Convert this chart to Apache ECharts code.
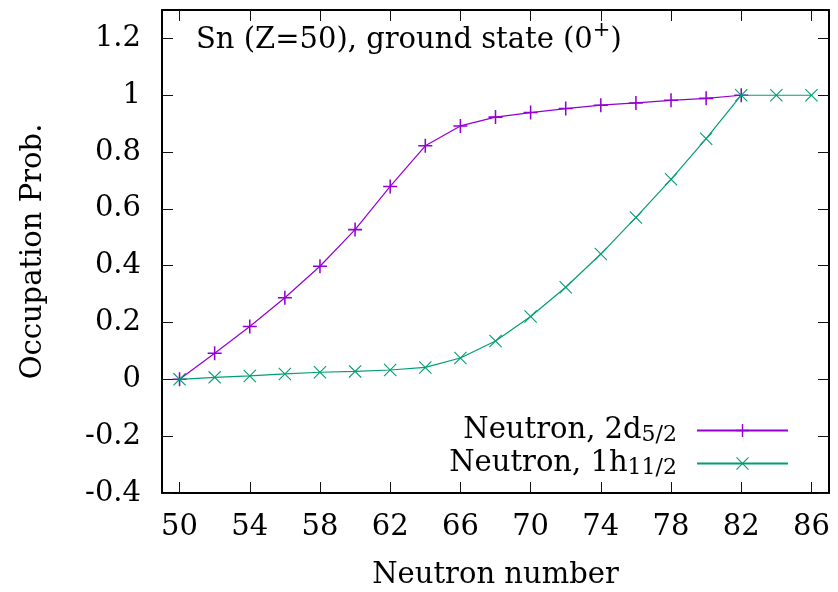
<!DOCTYPE html>
<html>
<head>
<meta charset="utf-8">
<script src="https://cdn.jsdelivr.net/npm/echarts@6/dist/echarts.min.js"></script>
<style>
  html, body { margin: 0; padding: 0; background: #fff; }
  #chart { width: 838px; height: 592px; }
</style>
</head>
<body>
<div id="chart"></div>
<script>
// Neutron numbers along the Sn isotope chain
const neutronN = [50, 52, 54, 56, 58, 60, 62, 64, 66, 68, 70, 72, 74, 76, 78, 80, 82, 84, 86];
// Occupation probability of the neutron 2d5/2 orbit (N = 50 ... 82)
const occ2d52 = [0.000, 0.092, 0.186, 0.287, 0.398, 0.527, 0.679, 0.822, 0.892, 0.923,
                 0.939, 0.953, 0.965, 0.973, 0.982, 0.989, 1.000];
// Occupation probability of the neutron 1h11/2 orbit (N = 50 ... 86)
const occ1h112 = [0.000, 0.007, 0.012, 0.019, 0.025, 0.028, 0.033, 0.042, 0.075, 0.135,
                  0.221, 0.324, 0.441, 0.570, 0.704, 0.847, 1.000, 1.000, 1.000];
// Tick positions
const xTicks = [50, 54, 58, 62, 66, 70, 74, 78, 82, 86];
const yTicks = [-0.4, -0.2, 0, 0.2, 0.4, 0.6, 0.8, 1, 1.2];

const FONT = 'DejaVu Serif';
const FS = 29;
const PURPLE = '#9400d3';
const GREEN = '#009e73';

// Filled '+' and 'x' glyphs used as point markers
const PLUS = 'path://M4.45,0 H5.55 V4.45 H10 V5.55 H5.55 V10 H4.45 V5.55 H0 V4.45 H4.45 Z';
const CROSS = 'path://M0,0.6 L0.6,0 L5,4.4 L9.4,0 L10,0.6 L5.6,5 L10,9.4 L9.4,10 L5,5.6 L0.6,10 L0,9.4 L4.4,5 Z';

const pairs = (xs, ys) => ys.map((y, i) => [xs[i], y]);

const chart = echarts.init(document.getElementById('chart'), null, { renderer: 'canvas' });

const tickStyle = { show: true, inside: true, length: 11, lineStyle: { color: '#111', width: 1 } };
const frameLine = { show: true, onZero: false, lineStyle: { color: '#000', width: 2 } };

chart.setOption({
  animation: false,
  backgroundColor: '#fff',
  textStyle: { fontFamily: FONT },
  title: {
    left: 196, top: 20, padding: 0,
    text: 'Sn (Z=50), ground state (0{sup|+})',
    textStyle: {
      fontFamily: FONT, fontSize: FS, fontWeight: 'normal', color: '#000', lineHeight: 40,
      rich: { sup: { fontFamily: FONT, fontSize: 21, lineHeight: 4, verticalAlign: 'top', color: '#000' } }
    }
  },
  grid: { left: 162, right: 9, top: 10, bottom: 99, containLabel: false, outerBoundsMode: 'none' },
  legend: {
    orient: 'vertical', align: 'right',
    right: 49, top: 415,
    itemWidth: 91, itemHeight: 16, itemGap: 2,
    padding: 0,
    selectedMode: false,
    data: ['Neutron, 2d5/2', 'Neutron, 1h11/2'],
    formatter: function (name) {
      if (name === 'Neutron, 2d5/2') return 'Neutron, 2d{sub|5/2}{gap|}';
      return 'Neutron, 1h{sub|11/2}{gap|}';
    },
    textStyle: {
      fontFamily: FONT, fontSize: FS, color: '#000', lineHeight: 31,
      rich: {
        sub: { fontFamily: FONT, fontSize: 22, lineHeight: 6, verticalAlign: 'bottom', color: '#000' },
        gap: { width: 15 }
      }
    }
  },
  xAxis: [{
    type: 'value', position: 'bottom', min: 49, max: 87,
    name: 'Neutron number', nameLocation: 'middle', nameGap: 68,
    nameTextStyle: { fontFamily: FONT, fontSize: FS, color: '#000' },
    axisLine: frameLine,
    axisTick: Object.assign({ customValues: xTicks }, tickStyle),
    axisLabel: { customValues: xTicks, margin: 20, fontFamily: FONT, fontSize: FS, color: '#000' },
    splitLine: { show: false }
  }, {
    type: 'value', position: 'top', min: 49, max: 87,
    axisLine: frameLine,
    axisTick: Object.assign({ customValues: xTicks }, tickStyle),
    axisLabel: { show: false },
    splitLine: { show: false }
  }],
  yAxis: [{
    type: 'value', position: 'left', min: -0.4, max: 1.3,
    name: 'Occupation Prob.', nameLocation: 'middle', nameGap: 114,
    nameTextStyle: { fontFamily: FONT, fontSize: FS, color: '#000' },
    axisLine: frameLine,
    axisTick: Object.assign({ customValues: yTicks }, tickStyle),
    axisLabel: {
      customValues: yTicks, margin: 21, fontFamily: FONT, fontSize: FS, color: '#000',
      formatter: v => String(Math.round(v * 10) / 10)
    },
    splitLine: { show: false }
  }, {
    type: 'value', position: 'right', min: -0.4, max: 1.3,
    axisLine: frameLine,
    axisTick: Object.assign({ customValues: yTicks }, tickStyle),
    axisLabel: { show: false },
    splitLine: { show: false }
  }],
  series: [{
    name: 'Neutron, 2d5/2',
    type: 'line',
    data: pairs(neutronN, occ2d52),
    symbol: PLUS, symbolSize: 14, symbolKeepAspect: true,
    lineStyle: { color: PURPLE, width: 1.2 },
    itemStyle: { color: PURPLE },
    z: 3
  }, {
    name: 'Neutron, 1h11/2',
    type: 'line',
    data: pairs(neutronN, occ1h112),
    symbol: CROSS, symbolSize: 13, symbolKeepAspect: true,
    lineStyle: { color: GREEN, width: 1.2 },
    itemStyle: { color: GREEN },
    z: 4
  }]
});
</script>
</body>
</html>
